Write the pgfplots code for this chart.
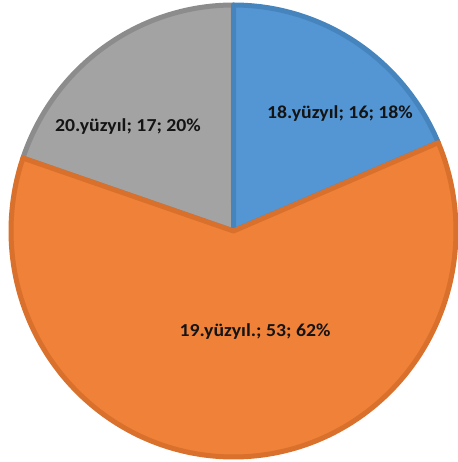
\documentclass[border=0pt]{standalone}
\usepackage{pgfplots}
\pgfplotsset{compat=1.18}
\usepackage{fontspec}
\setmainfont{Carlito}
\definecolor{cBlue}{HTML}{5496D3}
\definecolor{cBlueB}{HTML}{4684BE}
\definecolor{cOrange}{HTML}{EF8139}
\definecolor{cOrangeB}{HTML}{D9702B}
\definecolor{cGray}{HTML}{A3A3A3}
\definecolor{cGrayB}{HTML}{8C8C8C}
\begin{document}
\begin{tikzpicture}
% values
\def\vA{16}\def\vB{53}\def\vC{17}
\pgfmathsetmacro{\tot}{\vA+\vB+\vC}
\pgfmathsetmacro{\aA}{90}
\pgfmathsetmacro{\aB}{90-360*(\vA/\tot)}
\pgfmathsetmacro{\aC}{\aB-360*(\vB/\tot)}
\pgfmathsetmacro{\aD}{\aC-360*(\vC/\tot)}
\def\cx{233.5}\def\cy{231}\def\rx{222.5}\def\ry{226}
\begin{axis}[
  scale only axis, width=457pt, height=462pt,
  xmin=0, xmax=457, ymin=0, ymax=462,
  hide axis, clip=false,
]
\path[use as bounding box] (axis cs:0,0) rectangle (axis cs:457,462);
\addplot[fill=cGray, draw=cGrayB, line width=5pt, line join=round, domain=\aD:\aC, samples=60, smooth]
  ({\cx+\rx*cos(x)},{\cy+\ry*sin(x)}) -- (axis cs:\cx,\cy) -- cycle;
\addplot[fill=cBlue, draw=cBlueB, line width=5pt, line join=round, domain=\aB:\aA, samples=60, smooth]
  ({\cx+\rx*cos(x)},{\cy+\ry*sin(x)}) -- (axis cs:\cx,\cy) -- cycle;
\addplot[fill=cOrange, draw=cOrangeB, line width=5pt, line join=round, domain=\aC:\aB, samples=120, smooth]
  ({\cx+\rx*cos(x)},{\cy+\ry*sin(x)}) -- (axis cs:\cx,\cy) -- cycle;
\tikzset{lbl/.style={font=\fontsize{18.3}{21}\selectfont\bfseries, text=black!92, xscale=1.08}}
\node[lbl] at (axis cs:340,348) {18.yüzyıl; 16; 18\%};
\node[lbl] at (axis cs:128,335) {20.yüzyıl; 17; 20\%};
\node[lbl] at (axis cs:255,130) {19.yüzyıl.; 53; 62\%};
\end{axis}
\end{tikzpicture}
\end{document}
